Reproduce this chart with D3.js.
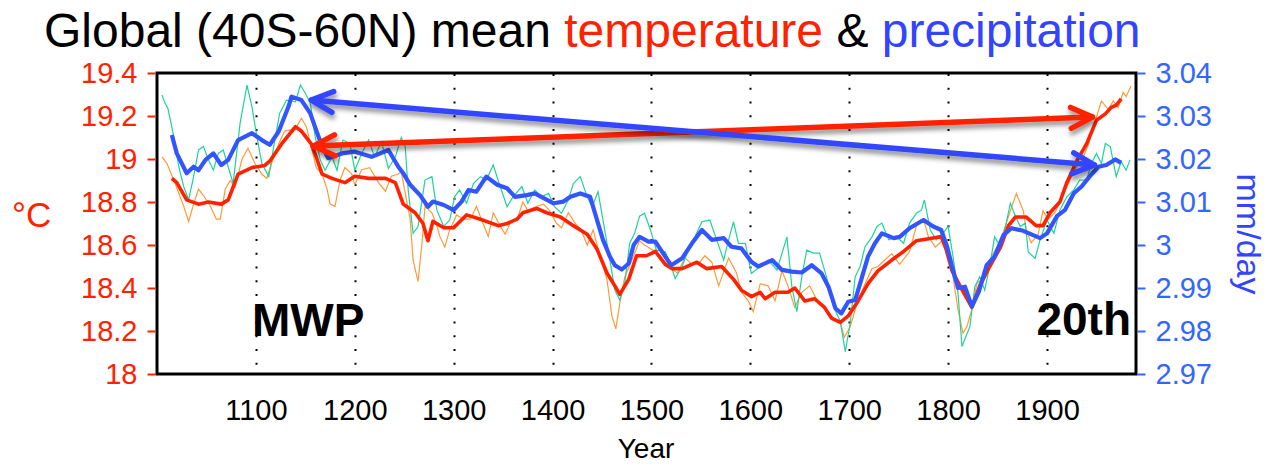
<!DOCTYPE html>
<html>
<head>
<meta charset="utf-8">
<script src="https://d3js.org/d3.v7.min.js"></script>
<style>
  body { margin: 0; background: #fff; }
  svg { display: block; font-family: "Liberation Sans", Arial, Helvetica, sans-serif; }
</style>
</head>
<body>
<svg id="chart"></svg>
<script>
var width = 1270,
    height = 466;

// x axis (years)
var yearTicks = [1100, 1200, 1300, 1400, 1500, 1600, 1700, 1800, 1900];
// left axis: temperature (°C)
var tempTicks = [18, 18.2, 18.4, 18.6, 18.8, 19, 19.2, 19.4];
var tempTickLabels = ["18", "18.2", "18.4", "18.6", "18.8", "19", "19.2", "19.4"];
// right axis: precipitation (mm/day)
var precTicks = [2.97, 2.98, 2.99, 3.00, 3.01, 3.02, 3.03, 3.04];
var precTickLabels = ["2.97", "2.98", "2.99", "3", "3.01", "3.02", "3.03", "3.04"];

// thin orange: temperature
var tempRaw = [[1005,19.01],[1010,18.98],[1018,18.89],[1027,18.78],[1032,18.71],[1037,18.79],[1042,18.86],[1047,18.83],
  [1054,18.78],[1060,18.72],[1064,18.72],[1069,18.86],[1074,18.90],[1079,18.87],[1086,19.00],[1092,19.05],[1099,18.98],
  [1106,18.93],[1111,18.91],[1116,18.98],[1123,19.07],[1129,19.13],[1140,19.14],[1146,19.19],[1151,19.15],[1156,19.06],
  [1161,18.96],[1167,18.93],[1172,18.86],[1175,18.79],[1180,18.78],[1185,18.90],[1190,18.96],[1197,18.93],[1200,18.88],
  [1207,18.95],[1215,18.96],[1224,18.89],[1231,18.85],[1237,18.92],[1244,18.93],[1247,18.94],[1256,18.72],[1259,18.53],
  [1264,18.43],[1268,18.61],[1271,18.78],[1278,18.75],[1283,18.69],[1286,18.64],[1291,18.59],[1296,18.67],[1303,18.74],
  [1310,18.72],[1317,18.72],[1323,18.78],[1328,18.72],[1335,18.64],[1340,18.75],[1347,18.69],[1352,18.65],[1357,18.70],
  [1365,18.73],[1370,18.80],[1375,18.76],[1384,18.78],[1391,18.79],[1397,18.76],[1404,18.70],[1409,18.68],[1416,18.75],
  [1423,18.70],[1429,18.67],[1435,18.60],[1441,18.67],[1448,18.55],[1455,18.44],[1460,18.27],[1464,18.21],[1468,18.33],
  [1473,18.45],[1482,18.55],[1488,18.62],[1493,18.60],[1500,18.58],[1509,18.55],[1517,18.50],[1526,18.47],[1534,18.54],
  [1541,18.51],[1547,18.51],[1554,18.55],[1561,18.52],[1568,18.41],[1578,18.54],[1586,18.47],[1591,18.38],[1598,18.34],
  [1603,18.29],[1610,18.42],[1618,18.41],[1625,18.34],[1632,18.48],[1638,18.41],[1645,18.31],[1652,18.38],[1660,18.41],
  [1669,18.33],[1677,18.30],[1684,18.26],[1691,18.24],[1695,18.17],[1701,18.22],[1708,18.33],[1716,18.42],[1723,18.49],
  [1729,18.50],[1736,18.53],[1743,18.56],[1751,18.51],[1761,18.57],[1768,18.69],[1775,18.72],[1780,18.64],[1787,18.59],
  [1794,18.62],[1800,18.59],[1805,18.45],[1810,18.30],[1815,18.19],[1819,18.22],[1824,18.30],[1829,18.42],[1836,18.45],
  [1842,18.53],[1853,18.62],[1863,18.76],[1869,18.84],[1876,18.76],[1879,18.67],[1884,18.61],[1891,18.65],[1896,18.76],
  [1901,18.72],[1908,18.75],[1915,18.82],[1922,18.89],[1928,18.95],[1935,18.99],[1942,19.07],[1949,19.18],[1955,19.27],
  [1962,19.23],[1967,19.27],[1972,19.24],[1977,19.31],[1980,19.29],[1985,19.34]];

// thin teal: precipitation
var precRaw = [[1005,3.0349],[1008,3.0330],[1011,3.0318],[1017,3.0252],[1022,3.0182],[1027,3.0136],[1032,3.0105],
  [1037,3.0159],[1042,3.0221],[1047,3.0229],[1052,3.0198],[1057,3.0174],[1062,3.0213],[1067,3.0221],[1072,3.0182],
  [1077,3.0143],[1084,3.0283],[1091,3.0372],[1096,3.0322],[1101,3.0252],[1106,3.0190],[1113,3.0159],[1118,3.0229],
  [1124,3.0306],[1131,3.0337],[1140,3.0333],[1145,3.0372],[1150,3.0353],[1155,3.0330],[1160,3.0252],[1165,3.0198],
  [1170,3.0174],[1177,3.0205],[1182,3.0174],[1188,3.0244],[1195,3.0236],[1200,3.0174],[1207,3.0213],[1214,3.0244],
  [1220,3.0205],[1227,3.0240],[1234,3.0178],[1241,3.0205],[1247,3.0250],[1251,3.0229],[1254,3.0128],[1259,3.0027],
  [1264,3.0043],[1271,3.0151],[1278,3.0159],[1283,3.0081],[1290,3.0043],[1296,3.0058],[1301,3.0112],[1306,3.0128],
  [1313,3.0097],[1320,3.0143],[1327,3.0159],[1333,3.0151],[1340,3.0186],[1347,3.0136],[1354,3.0089],[1360,3.0112],
  [1369,3.0136],[1375,3.0097],[1382,3.0128],[1389,3.0112],[1396,3.0120],[1402,3.0089],[1409,3.0074],[1416,3.0105],
  [1421,3.0143],[1428,3.0159],[1435,3.0112],[1440,3.0089],[1446,3.0124],[1451,3.0058],[1458,2.9965],[1463,2.9895],
  [1468,2.9872],[1473,2.9911],[1478,3.0004],[1483,3.0027],[1488,3.0067],[1493,3.0074],[1499,3.0035],[1505,2.9988],
  [1514,2.9984],[1519,2.9957],[1524,2.9922],[1531,2.9950],[1538,2.9992],[1544,3.0019],[1551,3.0054],[1559,3.0058],
  [1566,3.0012],[1573,2.9965],[1578,3.0012],[1583,3.0054],[1588,3.0004],[1595,3.0004],[1601,2.9934],[1610,2.9950],
  [1618,2.9965],[1627,2.9942],[1633,2.9988],[1637,3.0019],[1642,2.9903],[1647,2.9845],[1652,2.9926],[1657,2.9988],
  [1664,2.9981],[1670,2.9981],[1677,2.9926],[1684,2.9857],[1691,2.9822],[1696,2.9752],[1701,2.9818],[1706,2.9926],
  [1711,2.9950],[1716,2.9996],[1723,3.0019],[1728,3.0043],[1733,3.0051],[1740,3.0012],[1748,3.0019],[1755,3.0004],
  [1761,3.0051],[1768,3.0074],[1773,3.0081],[1776,3.0105],[1782,3.0035],[1788,3.0012],[1795,3.0027],[1800,3.0043],
  [1805,2.9973],[1810,2.9888],[1814,2.9764],[1818,2.9787],[1822,2.9810],[1827,2.9903],[1832,2.9926],[1837,2.9895],
  [1842,2.9950],[1847,3.0019],[1853,2.9996],[1858,3.0043],[1863,3.0097],[1868,3.0067],[1873,3.0043],[1878,3.0051],
  [1881,2.9984],[1888,2.9969],[1893,3.0012],[1900,3.0058],[1907,3.0027],[1913,3.0081],[1920,3.0112],[1927,3.0128],
  [1933,3.0151],[1940,3.0151],[1945,3.0190],[1950,3.0213],[1955,3.0190],[1959,3.0236],[1964,3.0229],[1970,3.0159],
  [1975,3.0194],[1980,3.0174],[1984,3.0198]];

// thick red: smoothed temperature
var tempSmooth = [[1015,18.91],[1020,18.89],[1030,18.81],[1042,18.79],[1052,18.80],[1065,18.79],[1072,18.81],[1082,18.93],
  [1096,18.96],[1109,18.97],[1114,18.99],[1126,19.07],[1140,19.15],[1146,19.13],[1156,19.07],[1161,19.01],[1167,18.93],
  [1177,18.91],[1190,18.89],[1200,18.92],[1214,18.91],[1231,18.91],[1241,18.89],[1249,18.79],[1252,18.78],[1261,18.75],
  [1269,18.70],[1274,18.62],[1279,18.71],[1290,18.68],[1300,18.68],[1313,18.74],[1327,18.72],[1345,18.69],[1354,18.70],
  [1364,18.72],[1370,18.75],[1384,18.77],[1394,18.75],[1408,18.73],[1421,18.69],[1435,18.65],[1445,18.58],[1455,18.47],
  [1463,18.41],[1468,18.37],[1477,18.44],[1485,18.55],[1495,18.55],[1504,18.57],[1514,18.51],[1521,18.49],[1531,18.49],
  [1546,18.52],[1556,18.49],[1571,18.50],[1583,18.44],[1591,18.39],[1601,18.36],[1610,18.38],[1615,18.35],[1625,18.38],
  [1638,18.38],[1645,18.40],[1655,18.34],[1665,18.35],[1675,18.31],[1682,18.26],[1691,18.24],[1699,18.27],[1709,18.34],
  [1719,18.42],[1729,18.48],[1743,18.53],[1755,18.57],[1768,18.62],[1782,18.63],[1793,18.64],[1798,18.58],[1804,18.48],
  [1812,18.41],[1824,18.31],[1832,18.41],[1842,18.50],[1853,18.59],[1861,18.69],[1868,18.73],[1879,18.73],[1889,18.69],
  [1896,18.69],[1903,18.75],[1913,18.80],[1920,18.89],[1930,18.99],[1940,19.07],[1950,19.18],[1959,19.21],[1965,19.24],
  [1970,19.25],[1975,19.28]];

// thick blue: smoothed precipitation
var precSmooth = [[1015,3.0256],[1020,3.0213],[1030,3.0167],[1037,3.0182],[1042,3.0174],[1049,3.0198],[1057,3.0213],
  [1065,3.0186],[1072,3.0198],[1082,3.0244],[1096,3.0260],[1106,3.0244],[1114,3.0233],[1123,3.0264],[1133,3.0322],
  [1136,3.0345],[1146,3.0337],[1155,3.0306],[1161,3.0267],[1167,3.0229],[1173,3.0202],[1187,3.0213],[1200,3.0217],
  [1217,3.0205],[1234,3.0221],[1244,3.0182],[1249,3.0167],[1256,3.0140],[1266,3.0116],[1274,3.0089],[1279,3.0101],
  [1290,3.0093],[1300,3.0081],[1308,3.0101],[1315,3.0128],[1323,3.0124],[1333,3.0159],[1344,3.0140],[1354,3.0132],
  [1362,3.0112],[1374,3.0116],[1382,3.0120],[1391,3.0109],[1401,3.0097],[1411,3.0101],[1418,3.0112],[1428,3.0120],
  [1438,3.0112],[1445,3.0058],[1451,3.0012],[1458,2.9973],[1463,2.9953],[1470,2.9943],[1477,2.9957],[1482,3.0000],
  [1488,3.0019],[1497,3.0008],[1504,3.0008],[1514,2.9973],[1520,2.9953],[1531,2.9969],[1541,3.0004],[1551,3.0035],
  [1561,3.0012],[1573,3.0016],[1581,2.9996],[1591,2.9992],[1601,2.9961],[1608,2.9950],[1622,2.9965],[1632,2.9942],
  [1642,2.9938],[1652,2.9936],[1662,2.9953],[1672,2.9934],[1679,2.9903],[1686,2.9853],[1692,2.9841],[1699,2.9868],
  [1706,2.9872],[1713,2.9926],[1719,2.9973],[1726,3.0004],[1733,3.0027],[1745,3.0016],[1751,3.0019],[1761,3.0039],
  [1775,3.0058],[1785,3.0043],[1793,3.0035],[1799,2.9996],[1804,2.9950],[1810,2.9900],[1817,2.9903],[1824,2.9857],
  [1831,2.9891],[1839,2.9953],[1847,2.9973],[1856,3.0023],[1864,3.0039],[1876,3.0033],[1886,3.0023],[1893,3.0016],
  [1900,3.0027],[1910,3.0067],[1918,3.0081],[1927,3.0120],[1935,3.0136],[1943,3.0159],[1952,3.0182],[1960,3.0186],
  [1969,3.0199],[1975,3.0191]];

// annotation arrows (MWP <-> 20th)
var tempArrow = [[1158, 19.06], [1946, 19.195]];
var precArrow = [[1156, 3.0337], [1948, 3.0186]];

var red = '#ff2200', blue = '#3344ff';

var svg = d3.select('#chart')
  .attr('width', width)
  .attr('height', height);

svg.append('rect').attr('width', width).attr('height', height).attr('fill', '#fff');

var defs = svg.append('defs');
var shadow = defs.append('filter').attr('id', 'shadow')
  .attr('x', '-10%').attr('y', '-100%').attr('width', '120%').attr('height', '300%');
shadow.append('feDropShadow')
  .attr('dx', 1).attr('dy', 4).attr('stdDeviation', 2.5)
  .attr('flood-color', '#000').attr('flood-opacity', 0.45);

var x = d3.scaleLinear().domain([1000, 1990]).range([157, 1136]);
var yT = d3.scaleLinear().domain([18, 19.4]).range([374, 73]);
var yP = d3.scaleLinear().domain([2.97, 3.04]).range([374, 73]);

// title
var title = svg.append('text')
  .attr('x', 44).attr('y', 47)
  .attr('font-size', 48);
title.append('tspan').attr('fill', '#000').text('Global (40S-60N) mean ');
title.append('tspan').attr('fill', red).text('temperature');
title.append('tspan').attr('fill', '#000').text(' & ');
title.append('tspan').attr('fill', blue).text('precipitation');

// dotted century grid
svg.append('g').selectAll('line')
  .data(yearTicks)
  .join('line')
  .attr('x1', d => Math.round(x(d)) + 0.5).attr('x2', d => Math.round(x(d)) + 0.5)
  .attr('y1', 74).attr('y2', 374)
  .attr('stroke', '#000').attr('stroke-width', 2)
  .attr('stroke-dasharray', '2 11.75');

// series
var lineT = d3.line().x(d => x(d[0])).y(d => yT(d[1]));
var lineP = d3.line().x(d => x(d[0])).y(d => yP(d[1]));

svg.append('path').datum(tempRaw).attr('d', lineT)
  .attr('fill', 'none').attr('stroke', '#ff9a3c').attr('stroke-width', 1.2);
svg.append('path').datum(precRaw).attr('d', lineP)
  .attr('fill', 'none').attr('stroke', '#1fd39c').attr('stroke-width', 1.2);
svg.append('path').datum(tempSmooth).attr('d', lineT)
  .attr('fill', 'none').attr('stroke', red).attr('stroke-width', 3.6)
  .attr('stroke-linejoin', 'round');
svg.append('path').datum(precSmooth).attr('d', lineP)
  .attr('fill', 'none').attr('stroke', '#3355ff').attr('stroke-width', 4.2)
  .attr('stroke-linejoin', 'round');

// frame
svg.append('rect')
  .attr('x', 157).attr('y', 73).attr('width', 979).attr('height', 301)
  .attr('fill', 'none').attr('stroke', '#000').attr('stroke-width', 3);

// axes
var axL = svg.append('g').attr('transform', 'translate(155.5,0)')
  .call(d3.axisLeft(yT).tickValues(tempTicks)
    .tickFormat((d, i) => tempTickLabels[i]).tickSize(8).tickPadding(10));
axL.select('.domain').remove();
axL.selectAll('line').attr('stroke', red).attr('stroke-width', 2);
axL.selectAll('text').attr('fill', red).attr('font-size', 29)
  .attr('font-family', '"Liberation Sans", Arial, sans-serif');

var axR = svg.append('g').attr('transform', 'translate(1137.5,0)')
  .call(d3.axisRight(yP).tickValues(precTicks)
    .tickFormat((d, i) => precTickLabels[i]).tickSize(8).tickPadding(10));
axR.select('.domain').remove();
axR.selectAll('line').attr('stroke', '#3366ff').attr('stroke-width', 2);
axR.selectAll('text').attr('fill', '#3366ff').attr('font-size', 29)
  .attr('font-family', '"Liberation Sans", Arial, sans-serif');

var axB = svg.append('g').attr('transform', 'translate(0,374)')
  .call(d3.axisBottom(x).tickValues(yearTicks).tickFormat(d3.format('d'))
    .tickSize(0).tickPadding(25));
axB.select('.domain').remove();
axB.selectAll('text').attr('fill', '#000').attr('font-size', 29)
  .attr('font-family', '"Liberation Sans", Arial, sans-serif');

// axis titles
svg.append('text').attr('x', 646).attr('y', 458)
  .attr('text-anchor', 'middle').attr('font-size', 28).text('Year');
svg.append('text').attr('x', 12).attr('y', 227)
  .attr('font-size', 35).attr('fill', red).text('°C');
svg.append('text')
  .attr('transform', 'translate(1237,234) rotate(90)')
  .attr('text-anchor', 'middle').attr('font-size', 34).attr('fill', blue)
  .text('mm/day');

// period labels
svg.append('text').attr('x', 252).attr('y', 336)
  .attr('font-size', 46).attr('font-weight', 'bold').text('MWP');
svg.append('text').attr('x', 1131).attr('y', 335)
  .attr('text-anchor', 'end')
  .attr('font-size', 46).attr('font-weight', 'bold').text('20th');

// double-headed arrows
function drawArrow(p0, p1, color) {
  var g = svg.append('g').attr('filter', 'url(#shadow)')
    .attr('stroke', color).attr('stroke-width', 5.5)
    .attr('stroke-linecap', 'round').attr('fill', 'none');
  g.append('line')
    .attr('x1', p0[0]).attr('y1', p0[1]).attr('x2', p1[0]).attr('y2', p1[1]);
  var ang = Math.atan2(p1[1] - p0[1], p1[0] - p0[0]);
  var len = 24, spread = 0.45;
  [[p0, ang], [p1, ang + Math.PI]].forEach(function(h) {
    var tip = h[0], a = h[1];
    var path = d3.path();
    path.moveTo(tip[0] + len * Math.cos(a - spread), tip[1] + len * Math.sin(a - spread));
    path.lineTo(tip[0], tip[1]);
    path.lineTo(tip[0] + len * Math.cos(a + spread), tip[1] + len * Math.sin(a + spread));
    g.append('path').attr('d', path.toString()).attr('stroke-linejoin', 'round');
  });
}

drawArrow([x(tempArrow[0][0]), yT(tempArrow[0][1])], [x(tempArrow[1][0]), yT(tempArrow[1][1])], red);
drawArrow([x(precArrow[0][0]), yP(precArrow[0][1])], [x(precArrow[1][0]), yP(precArrow[1][1])], blue);
</script>
</body>
</html>
